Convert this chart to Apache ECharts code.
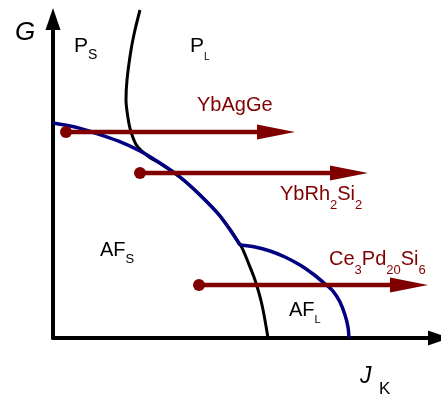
<!DOCTYPE html>
<html><head><meta charset="utf-8">
<script src="https://cdn.jsdelivr.net/npm/echarts@6/dist/echarts.min.js"></script>
<style>html,body{margin:0;padding:0;background:#fff}#c{width:441px;height:402px}</style>
</head><body><div id="c"></div>
<script>
// Phase boundary P_S / P_L (black), in abstract units (J_K: 0-100, G: 0-100)
const blackBoundary = [[22.54,102.82],[21.24,96.55],[20.21,90.28],[19.17,80.88],[18.91,74.61],[19.43,68.97],[20.21,64.58],[21.76,60.19],[24.87,56.74],[27.98,54.55],[33.16,50.16],[38.34,44.51],[43.52,37.93],[48.70,28.84],[50.52,23.82],[52.33,18.18],[54.15,10.34],[55.70,0]];
// AF_S boundary (blue)
const blueAFS = [[0,67.40],[5.70,66.14],[10.88,64.26],[16.84,61.76],[22.54,58.62],[27.72,54.86],[32.90,50.47],[38.08,44.83],[43.26,38.24],[48.45,29.15]];
// AF_L boundary (blue)
const blueAFL = [[48.45,29.15],[52.33,28.53],[56.22,27.27],[60.10,25.39],[63.99,22.88],[67.36,20.06],[70.21,17.24],[72.54,14.73],[74.35,11.29],[75.65,7.21],[76.42,3.45],[76.68,0]];
// Compound trajectories: start J_K, arrow-head J_K, G
const compounds = ['YbAgGe', 'YbRh2Si2', 'Ce3Pd20Si6'];
const arrowStart = [3.37, 22.54, 37.82];
const arrowEnd = [57.77, 76.68, 92.23];
const arrowG = [64.58, 51.72, 16.61];

const RED = '#800000', BLUE = '#000080';
const FONT = '"Liberation Sans", Arial, Helvetica, sans-serif';
const mctx = document.createElement('canvas').getContext('2d');
function run(parts, x, baseline, size, subSize, drop, color, italic) {
  const els = [];
  let cx = x;
  parts.forEach(([t, sub]) => {
    const fs = sub ? subSize : size;
    const bl = sub ? baseline + drop : baseline;
    const st = (italic && !sub) ? 'italic' : 'normal';
    mctx.font = st + ' ' + fs + 'px ' + FONT;
    els.push({type:'text', x: cx, y: bl - 0.3465*fs, silent:true, z:100,
      style:{text:t, fill:color, fontSize:fs, fontFamily:FONT, fontStyle:st, align:'left', verticalAlign:'middle'}});
    cx += mctx.measureText(t).width;
  });
  return els;
}

const graphics = [].concat(
  run([['G',0]], 15, 42, 26, 0, 0, '#000', true),
  run([['J',0]], 360, 385, 23, 0, 0, '#000', true),
  run([['K',0]], 379, 395, 17, 0, 0, '#000', false),
  run([['P',0],['S',1]], 74, 53, 21, 14, 7, '#000', false),
  run([['P',0],['L',1]], 190, 53, 21, 10, 8, '#000', false),
  run([['AF',0],['S',1]], 100, 257, 20, 13, 7, '#000', false),
  run([['AF',0],['L',1]], 289, 317, 20, 11, 7, '#000', false),
  run([['YbAgGe',0]], 197, 112, 20, 13, 9, RED, false),
  run([['YbRh',0],['2',1],['Si',0],['2',1]], 280, 201, 20, 13, 9, RED, false),
  run([['Ce',0],['3',1],['Pd',0],['20',1],['Si',0],['6',1]], 329, 266, 20, 13, 9, RED, false)
);

const arrowSeries = compounds.map((name, i) => ({
  name: name, type: 'line', z: 5, animation: false, silent: true,
  lineStyle: {color: RED, width: 4.5}, itemStyle: {color: RED},
  showSymbol: true,
  data: [
    {value: [arrowStart[i], arrowG[i]], symbol: 'circle', symbolSize: 12},
    {value: [arrowEnd[i], arrowG[i]], symbol: 'triangle', symbolSize: [15, 38], symbolRotate: -90}
  ]
}));

const axisCommon = {
  type: 'value', min: 0, max: 100,
  axisLine: {show: true, onZero: false, symbol: ['none', 'triangle'], symbolSize: [15, 22], lineStyle: {color: '#000', width: 4}},
  axisTick: {show: false}, axisLabel: {show: false}, splitLine: {show: false}
};

const chart = echarts.init(document.getElementById('c'), null, {renderer: 'canvas'});
chart.setOption({
  animation: false,
  backgroundColor: '#fff',
  grid: {left: 53, top: 19, right: 2, bottom: 64},
  xAxis: Object.assign({}, axisCommon),
  yAxis: Object.assign({}, axisCommon),
  graphic: graphics,
  series: [
    {type: 'line', data: blackBoundary, smooth: 0.3, showSymbol: false, clip: false, z: 2, silent: true,
     lineStyle: {color: '#000', width: 3}},
    {type: 'line', data: blueAFS, smooth: 0.3, showSymbol: false, clip: false, z: 3, silent: true,
     lineStyle: {color: BLUE, width: 3.5}},
    {type: 'line', data: blueAFL, smooth: 0.3, showSymbol: false, clip: false, z: 3, silent: true,
     lineStyle: {color: BLUE, width: 3.5}}
  ].concat(arrowSeries)
});
</script>
</body></html>
